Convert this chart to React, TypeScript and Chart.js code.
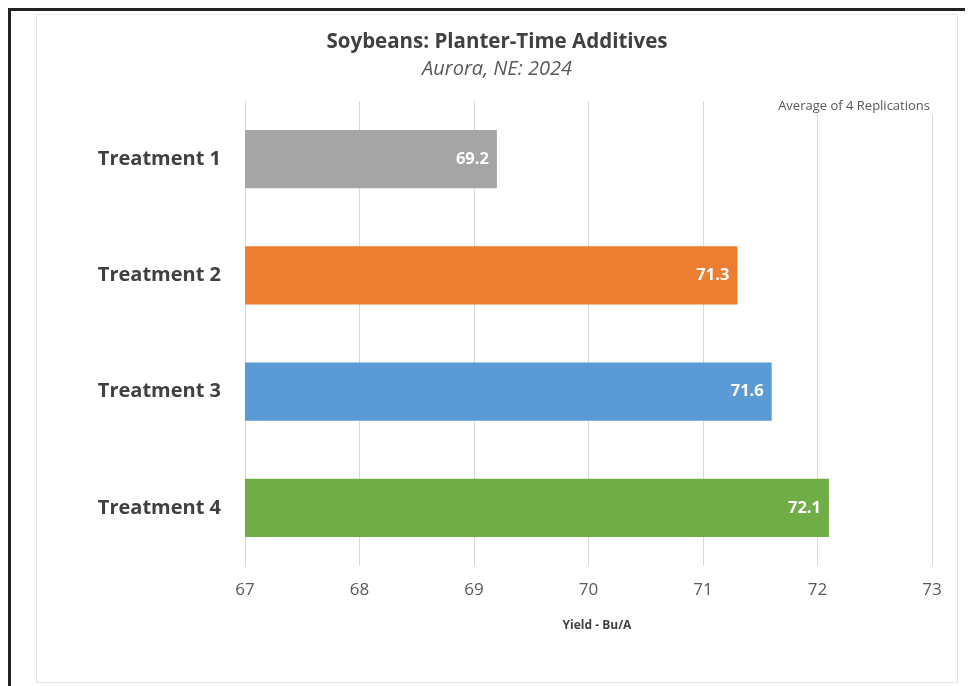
import React, { useEffect, useRef } from "react";
import { Chart, registerables } from "chart.js";

Chart.register(...registerables);

const categories = ["Treatment 1", "Treatment 2", "Treatment 3", "Treatment 4"];
const yields = [69.2, 71.3, 71.6, 72.1];
const barColors = ["#a5a5a5", "#ed7d31", "#5b9bd5", "#70ad47"];
const xMin = 67;
const xMax = 73;
const titleText = "Soybeans: Planter-Time Additives";
const subtitleText = "Aurora, NE: 2024";
const noteText = "Average of 4 Replications";
const xAxisTitle = "Yield - Bu/A";

const FONT = "'Open Sans', sans-serif";

const overlayPlugin = {
  id: "overlay",
  afterDatasetsDraw(chart: any) {
    const ctx = chart.ctx;
    const meta = chart.getDatasetMeta(0);
    ctx.save();
    ctx.font = `bold 16.5px ${FONT}`;
    ctx.fillStyle = "#ffffff";
    ctx.textAlign = "right";
    ctx.textBaseline = "middle";
    meta.data.forEach((bar: any, i: number) => {
      ctx.fillText(yields[i].toFixed(1), bar.x - 8, bar.y);
    });
    ctx.restore();
  },
  afterDraw(chart: any) {
    const ctx = chart.ctx;
    const w = chart.width;
    ctx.save();
    ctx.textAlign = "center";
    ctx.textBaseline = "middle";
    ctx.fillStyle = "#404040";
    ctx.font = `bold 20.5px ${FONT}`;
    ctx.fillText(titleText, w / 2, 27);
    ctx.fillStyle = "#595959";
    ctx.font = `italic 20px ${FONT}`;
    ctx.fillText(subtitleText, w / 2, 54);
    // note box
    ctx.font = `13px ${FONT}`;
    const nw = ctx.measureText(noteText).width;
    ctx.fillStyle = "#ffffff";
    ctx.fillRect(893 - nw - 4, 82, nw + 8, 18);
    ctx.fillStyle = "#595959";
    ctx.textAlign = "right";
    ctx.fillText(noteText, 893, 91);
    // axis title
    ctx.textAlign = "center";
    ctx.fillStyle = "#404040";
    ctx.font = `bold 12px ${FONT}`;
    ctx.fillText(xAxisTitle, 560, 611);
    ctx.restore();
  },
};

export default function App() {
  const ref = useRef<HTMLCanvasElement | null>(null);
  useEffect(() => {
    if (!ref.current) return;
    const chart = new Chart(ref.current, {
      type: "bar",
      data: {
        labels: categories,
        datasets: [
          {
            data: yields,
            backgroundColor: barColors,
            borderWidth: 0,
            barPercentage: 0.5,
            categoryPercentage: 1,
          },
        ],
      },
      options: {
        indexAxis: "y",
        animation: false,
        responsive: false,
        devicePixelRatio: 1,
        layout: { padding: { left: 0, top: 86, right: 25, bottom: 0 } },
        plugins: {
          legend: { display: false },
          tooltip: { enabled: false },
          title: { display: false },
        },
        scales: {
          x: {
            min: xMin,
            max: xMax,
            ticks: {
              stepSize: 1,
              padding: 14,
              color: "#595959",
              font: { family: FONT, size: 17 },
            },
            grid: { color: "#d9d9d9", drawTicks: false },
            border: { display: false },
            afterFit(scale: any) {
              scale.height = 116;
            },
          },
          y: {
            ticks: {
              padding: 24,
              color: "#404040",
              font: { family: FONT, size: 20, weight: "bold" },
            },
            grid: { display: false, drawTicks: false },
            border: { display: true, color: "#d9d9d9" },
            afterFit(scale: any) {
              scale.width = 208;
            },
          },
        },
      } as any,
      plugins: [overlayPlugin],
    });
    return () => chart.destroy();
  }, []);

  return (
    <div style={{ position: "relative", width: 965, height: 678, overflow: "hidden" }}>
      <div
        style={{
          position: "absolute",
          left: 0,
          top: 0,
          width: 1000,
          height: 700,
          borderLeft: "3px solid #222",
          borderTop: "3px solid #222",
        }}
      />
      <div
        style={{
          position: "absolute",
          left: 28,
          top: 6,
          width: 920,
          height: 667,
          border: "1px solid #e6e6e6",
          background: "#fff",
        }}
      >
        <canvas ref={ref} width={920} height={667} style={{ display: "block" }} />
      </div>
    </div>
  );
}
